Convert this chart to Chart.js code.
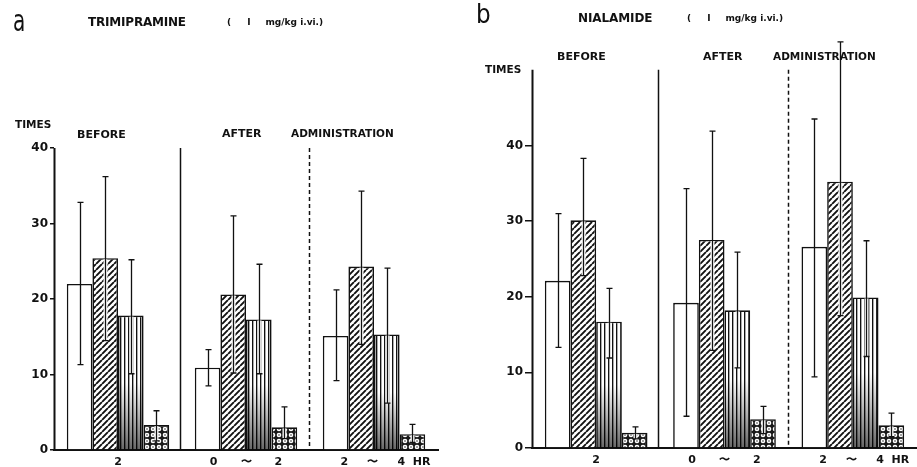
<!DOCTYPE html>
<html><head><meta charset="utf-8">
<script src="https://cdn.jsdelivr.net/npm/chart.js@4"></script>
<style>
body{margin:0;width:917px;height:467px;background:#fff;position:relative;overflow:hidden;font-family:"DejaVu Sans",sans-serif;}
canvas{position:absolute;top:0}
.t{position:absolute;font-weight:bold;white-space:nowrap;color:#111;line-height:1;transform:translateY(-50%);}
.big{position:absolute;color:#111;line-height:1;font-family:"Liberation Sans Narrow","DejaVu Sans Condensed",sans-serif;}
.sm{font-size:9px;font-weight:bold;}
.sm span{display:inline-block;}
</style></head><body>
<canvas id="ca" width="460" height="467" style="left:0"></canvas>
<canvas id="cb" width="457" height="467" style="left:460px"></canvas>

<div class="big" style="left:13px;top:5px;font-size:31px;transform:scaleX(0.72);transform-origin:left top">a</div>
<div class="t" style="left:88px;top:22px;font-size:12px;letter-spacing:-0.2px">TRIMIPRAMINE</div>
<div class="t sm" style="left:227px;top:22px"><span>(</span><span style="margin-left:16px">I</span><span style="margin-left:15px">mg/kg i.vi.)</span></div>
<div class="t" style="left:15px;top:124px;font-size:10.5px">TIMES</div>
<div class="t" style="left:77px;top:134px;font-size:11px">BEFORE</div>
<div class="t" style="left:222px;top:133px;font-size:11px">AFTER</div>
<div class="t" style="left:291px;top:133px;font-size:10.5px">ADMINISTRATION</div>

<div class="big" style="left:476px;top:0px;font-size:27px;transform:scaleX(0.95);transform-origin:left top">b</div>
<div class="t" style="left:578px;top:18px;font-size:12px;letter-spacing:-0.1px">NIALAMIDE</div>
<div class="t sm" style="left:687px;top:18px"><span>(</span><span style="margin-left:16px">I</span><span style="margin-left:15px">mg/kg i.vi.)</span></div>
<div class="t" style="left:485px;top:69px;font-size:10.5px">TIMES</div>
<div class="t" style="left:557px;top:56px;font-size:11px">BEFORE</div>
<div class="t" style="left:703px;top:56px;font-size:11px">AFTER</div>
<div class="t" style="left:773px;top:56px;font-size:10.5px">ADMINISTRATION</div>

<script>
// ---- categories / tick labels ----
const categories = ['2', '0      \u301C      2', '      2     \u301C     4  HR'];
const yTicks = [0, 10, 20, 30, 40];

// ---- Panel a: TRIMIPRAMINE ----
const aOpen = [22.0, 10.9, 15.1];
const aOpenHi = [32.8, 13.3, 21.2];
const aOpenLo = [11.3, 8.5, 9.2];
const aDiag = [25.4, 20.6, 24.3];
const aDiagHi = [36.2, 31.0, 34.3];
const aDiagLo = [14.5, 10.2, 14.0];
const aVert = [17.8, 17.3, 15.3];
const aVertHi = [25.2, 24.6, 24.1];
const aVertLo = [10.1, 10.1, 6.2];
const aDot = [3.3, 3.0, 2.1];
const aDotHi = [5.2, 5.7, 3.4];
const aDotLo = [1.2, 1.5, 1.0];

// ---- Panel b: NIALAMIDE ----
const bOpen = [22.1, 19.2, 26.6];
const bOpenHi = [31.0, 34.3, 43.5];
const bOpenLo = [13.3, 4.2, 9.4];
const bDiag = [30.1, 27.5, 35.2];
const bDiagHi = [38.3, 41.9, 53.7];
const bDiagLo = [22.8, 12.9, 17.5];
const bVert = [16.7, 18.2, 19.9];
const bVertHi = [21.1, 25.9, 27.4];
const bVertLo = [11.9, 10.6, 12.1];
const bDot = [2.0, 3.8, 3.0];
const bDotHi = [2.8, 5.5, 4.6];
const bDotLo = [1.2, 1.9, 1.5];

const INK = '#111';

function mkPattern(w, h, draw) {
  const c = document.createElement('canvas'); c.width = w; c.height = h;
  const g = c.getContext('2d'); draw(g, w, h);
  return g.createPattern(c, 'repeat');
}
const patDiag = mkPattern(6, 6, (g, w, h) => {
  g.fillStyle = '#fff'; g.fillRect(0, 0, w, h);
  g.strokeStyle = INK; g.lineWidth = 1.9; g.beginPath();
  for (let k = -1; k <= 1; k++) { g.moveTo(k * w, h); g.lineTo(k * w + w, 0); }
  g.stroke();
});
const patVert = mkPattern(4, 4, (g, w, h) => {
  g.fillStyle = '#fff'; g.fillRect(0, 0, w, h);
  g.fillStyle = INK; g.fillRect(0, 0, 1, h);
  g.fillStyle = '#aaa'; g.fillRect(1, 0, 1, h);
});
const patDot = mkPattern(6, 6, (g, w, h) => {
  g.fillStyle = '#1a1a1a'; g.fillRect(0, 0, w, h);
  g.fillStyle = '#fff'; g.beginPath(); g.arc(3, 3, 2.3, 0, Math.PI * 2); g.fill();
  g.fillStyle = '#333'; g.beginPath(); g.arc(3, 3, 0.8, 0, Math.PI * 2); g.fill();
});

function ds(label, data, hi, lo, fill, strip, shade) {
  return { label, data, errHi: hi, errLo: lo, strip, shade,
    backgroundColor: fill, borderColor: INK, borderWidth: 1.6,
    categoryPercentage: 0.8, barPercentage: 1.0 };
}

const errorPlugin = {
  id: 'errorBars',
  afterDatasetsDraw(chart) {
    const ctx = chart.ctx, y = chart.scales.y;
    ctx.save();
    chart.data.datasets.forEach((d, di) => {
      const meta = chart.getDatasetMeta(di);
      meta.data.forEach((bar, i) => {
        const base = y.getPixelForValue(0);
        if (d.shade) {
          const h = base - bar.y;
          const gr = ctx.createLinearGradient(0, base, 0, bar.y);
          gr.addColorStop(0, 'rgba(0,0,0,0.6)');
          gr.addColorStop(0.5, 'rgba(0,0,0,0.0)');
          ctx.fillStyle = gr;
          ctx.fillRect(bar.x - bar.width / 2 + 1, bar.y + 1, bar.width - 2, h - 1);
        }
        const x = Math.round(bar.x) + 0.5;
        const yh = y.getPixelForValue(d.errHi[i]);
        const yl = y.getPixelForValue(d.errLo[i]);
        if (d.strip) {
          ctx.strokeStyle = '#fff'; ctx.lineWidth = 4;
          ctx.beginPath(); ctx.moveTo(x, yl); ctx.lineTo(x, Math.min(bar.y + 1, yl)); ctx.stroke();
        }
        ctx.strokeStyle = INK; ctx.lineWidth = 1.3;
        ctx.beginPath();
        ctx.moveTo(x, yh); ctx.lineTo(x, yl);
        ctx.moveTo(x - 3, yh); ctx.lineTo(x + 3, yh);
        ctx.moveTo(x - 3, yl); ctx.lineTo(x + 3, yl);
        ctx.stroke();
      });
    });
    ctx.restore();
  }
};

function dividerPlugin(topVal) {
  return {
    id: 'dividers',
    afterDraw(chart) {
      const ctx = chart.ctx, x = chart.scales.x, y = chart.scales.y;
      const top = y.getPixelForValue(topVal), bot = y.getPixelForValue(0);
      const b1 = Math.round((x.getPixelForValue(0) + x.getPixelForValue(1)) / 2) - 1.5;
      const b2 = Math.round((x.getPixelForValue(1) + x.getPixelForValue(2)) / 2) - 0.5;
      ctx.save();
      ctx.strokeStyle = INK; ctx.lineWidth = 1.5;
      ctx.beginPath(); ctx.moveTo(b1, top); ctx.lineTo(b1, bot); ctx.stroke();
      ctx.setLineDash([4, 3]);
      ctx.beginPath(); ctx.moveTo(b2, top); ctx.lineTo(b2, bot); ctx.stroke();
      ctx.setLineDash([]);
      const ax = Math.round(chart.chartArea.left) + 0.5;
      ctx.lineWidth = 2;
      ctx.beginPath(); ctx.moveTo(ax, top); ctx.lineTo(ax, bot + 1); ctx.stroke();
      ctx.restore();
    }
  };
}

function makeChart(id, sets, opt) {
  return new Chart(document.getElementById(id), {
    type: 'bar',
    data: { labels: categories, datasets: sets },
    plugins: [errorPlugin, dividerPlugin(opt.axisTop)],
    options: {
      responsive: false, animation: false,
      layout: { padding: opt.padding },
      plugins: { legend: { display: false }, tooltip: { enabled: false } },
      scales: {
        x: {
          grid: { display: false, drawTicks: false },
          border: { display: true, color: INK, width: 2 },
          ticks: { color: INK, font: { family: 'DejaVu Sans', weight: 'bold', size: 11 }, padding: 6, maxRotation: 0, autoSkip: false },
          afterFit: s => { s.height = opt.xh; }
        },
        y: {
          min: 0, max: opt.max,
          grid: { drawOnChartArea: false, drawTicks: true, tickLength: opt.tl, color: INK, lineWidth: 1.5 },
          border: { display: false },
          ticks: { stepSize: 10, color: INK, padding: 2, font: { family: 'DejaVu Sans', weight: 'bold', size: 12 } },
          afterBuildTicks: s => { s.ticks = yTicks.map(v => ({ value: v })); },
          afterFit: s => { s.width = opt.yw; }
        }
      }
    }
  });
}

makeChart('ca', [
  ds('control', aOpen, aOpenHi, aOpenLo, '#fff', false, false),
  ds('diag', aDiag, aDiagHi, aDiagLo, patDiag, true, false),
  ds('vert', aVert, aVertHi, aVertLo, patVert, true, true),
  ds('dot', aDot, aDotHi, aDotLo, patDot, true, false)
], { max: 40, axisTop: 40, padding: { top: 148, left: 0, right: 22, bottom: 0 }, xh: 17, yw: 54, tl: 4 });

makeChart('cb', [
  ds('control', bOpen, bOpenHi, bOpenLo, '#fff', false, false),
  ds('diag', bDiag, bDiagHi, bDiagLo, patDiag, true, false),
  ds('vert', bVert, bVertHi, bVertLo, patVert, true, true),
  ds('dot', bDot, bDotHi, bDotLo, patDot, true, false)
], { max: 55, axisTop: 50, padding: { top: 32, left: 0, right: 0, bottom: 0 }, xh: 19, yw: 72, tl: 7 });
</script>
</body></html>
